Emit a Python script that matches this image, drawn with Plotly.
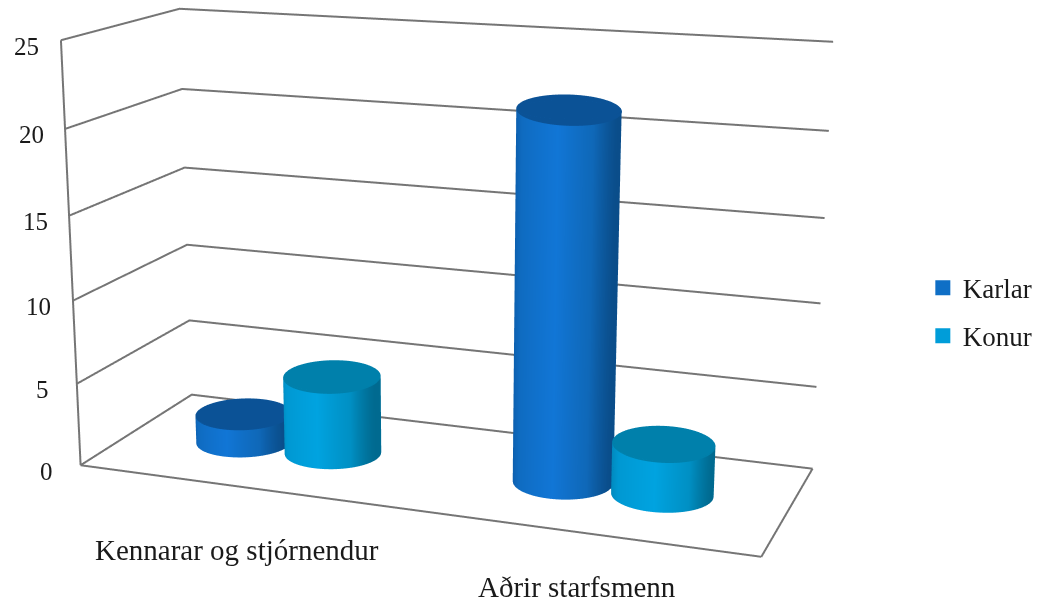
import numpy as np
import plotly.graph_objects as go

categories = ["Kennarar og stjórnendur", "Aðrir starfsmenn"]
series_names = ["Karlar", "Konur"]
karlar = [1.75, 21.6]
konur = [4.75, 3]
yticks = [0, 5, 10, 15, 20, 25]

# visual styling
side_scale = [
    [[0, "#0b5ba8"], [0.15, "#0f6bc0"], [0.55, "#1176d6"], [0.85, "#0f68b8"], [1, "#0a4d8a"]],
    [[0, "#0085b8"], [0.15, "#0098d2"], [0.55, "#00a3e0"], [0.85, "#0090c4"], [1, "#006a90"]],
]
top_color = ["#0b5296", "#0080ab"]
legend_color = ["#0f6fc6", "#009dd9"]
GRID = "#757575"
FONT = "Liberation Serif"
TEXT = "#1a1a1a"

# scene geometry
XR = [-0.5, 1.5]
YR = [-0.5, 0.5]
ZR = [yticks[0], yticks[-1]]
PAD = 0.001  # keeps lines on the box edge inside the scene's clip bounds
ASPECT = dict(x=1.6129, y=0.5731, z=1)
EYE = dict(x=1.5929, y=-4.3396, z=1.1715)
BAR_OFFSET = 0.145
RW = 0.115  # bar radius in scene units
sx = (XR[1] - XR[0]) / ASPECT["x"]
sy = (YR[1] - YR[0]) / ASPECT["y"]
CAP_STRETCH = 0.032  # the tops open up more with height than this camera gives
vd = np.array([EYE["x"], EYE["y"]]) / np.hypot(EYE["x"], EYE["y"])

# a page larger than the window narrows plotly's fixed field of view
FOCAL = 2098.07
PP = (439.17, 281.30)
PAGE_H = FOCAL / 1.20711
PAGE_W = 1800
OFF_X = PP[0] - PAGE_W / 2
OFF_Y = PP[1] - PAGE_H / 2
def paper_x(px): return (px - OFF_X) / PAGE_W
def paper_y(py): return 1 - (py - OFF_Y) / PAGE_H
def padded(r): return [r[0] - PAD * (r[1] - r[0]), r[1] + PAD * (r[1] - r[0])]

fig = go.Figure()
th = np.linspace(0, 2 * np.pi, 121)
rr = np.array([0.0, 1.0])
flat = dict(ambient=1, diffuse=0, specular=0, roughness=1, fresnel=0)
nohl = dict(x=dict(highlight=False), y=dict(highlight=False), z=dict(highlight=False))
gline = dict(mode="lines", line=dict(color=GRID, width=4), showlegend=False, hoverinfo="skip")

# grid
for t in yticks:
    fig.add_trace(go.Scatter3d(x=[XR[0], XR[0], XR[1]], y=[YR[0], YR[1], YR[1]], z=[t, t, t], **gline))
fig.add_trace(go.Scatter3d(x=[XR[1], XR[1]], y=[YR[1], YR[0]], z=[ZR[0], ZR[0]], **gline))
fig.add_trace(go.Scatter3d(x=[XR[1], XR[0]], y=[YR[0], YR[0]], z=[ZR[0], ZR[0]], **gline))
fig.add_trace(go.Scatter3d(x=[XR[0], XR[0]], y=[YR[0], YR[0]], z=[ZR[0], ZR[1]], **gline))

for s, vals in enumerate([karlar, konur]):
    for c, v in enumerate(vals):
        cx = c + (s - 0.5) * 2 * BAR_OFFSET
        X = np.array([cx + RW * sx * np.cos(th)] * 2)
        Y = np.array([RW * sy * np.sin(th)] * 2)
        Z = np.array([np.zeros_like(th), np.full_like(th, v)])
        fig.add_trace(go.Surface(x=X, y=Y, z=Z, surfacecolor=np.array([np.cos(th)] * 2), cmin=-1, cmax=1,
                                 colorscale=side_scale[s], showscale=False, lighting=flat, name=series_names[s], contours=nohl))
        along = np.cos(th) * vd[0] + np.sin(th) * vd[1]
        wx = RW * (np.cos(th) + CAP_STRETCH * v * along * vd[0])
        wy = RW * (np.sin(th) + CAP_STRETCH * v * along * vd[1])
        fig.add_trace(go.Surface(x=cx + np.outer(rr, wx * sx), y=np.outer(rr, wy * sy),
                                 z=np.full((2, th.size), v), surfacecolor=np.zeros((2, th.size)),
                                 colorscale=[[0, top_color[s]], [1, top_color[s]]], showscale=False, lighting=flat,
                                 name=series_names[s], contours=nohl))

# legend entries
for s, nm in enumerate(series_names):
    fig.add_trace(go.Scatter(x=[None], y=[None], mode="markers", name=nm, legendgroup=nm,
                             marker=dict(symbol="square", size=15, color=legend_color[s])))

annos = []
for t in yticks:
    annos.append(dict(x=XR[0], y=YR[0], z=t, text=str(t), showarrow=False, xshift=-34, yshift=-6,
                      font=dict(family=FONT, size=25, color=TEXT)))
for c, (name, dy) in enumerate(zip(categories, [-64, -55])):
    annos.append(dict(x=c, y=YR[0], z=0, text=name, showarrow=False, xshift=1, yshift=dy,
                      font=dict(family=FONT, size=29, color=TEXT)))

hidden = dict(visible=False, showspikes=False)
fig.update_layout(
    width=PAGE_W, height=PAGE_H, margin=dict(l=0, r=0, t=0, b=0), paper_bgcolor="white", plot_bgcolor="white",
    xaxis=dict(visible=False, domain=[0, 0.01]), yaxis=dict(visible=False, domain=[0, 0.01]),
    legend=dict(x=paper_x(923), y=paper_y(264), xanchor="left", yanchor="top", tracegroupgap=10,
                font=dict(family=FONT, size=27, color=TEXT), bgcolor="rgba(0,0,0,0)"),
    scene=dict(
        domain=dict(x=[0, 1], y=[0, 1]),
        xaxis=dict(range=padded(XR), **hidden), yaxis=dict(range=padded(YR), **hidden), zaxis=dict(range=padded(ZR), **hidden),
        aspectmode="manual", aspectratio=ASPECT,
        camera=dict(eye=EYE, center=dict(x=-0.0104, y=-0.0170, z=-0.0469), up=dict(x=0, y=0, z=1)),
        annotations=annos),
)
script = ("document.documentElement.style.overflow='hidden';document.body.style.overflow='hidden';"
          "document.body.style.margin='0';var g=document.getElementById('{plot_id}');"
          "g.style.position='absolute';g.style.left='%.2fpx';g.style.top='%.2fpx';" % (OFF_X, OFF_Y))
fig.write_html("out.html", post_script=script)
